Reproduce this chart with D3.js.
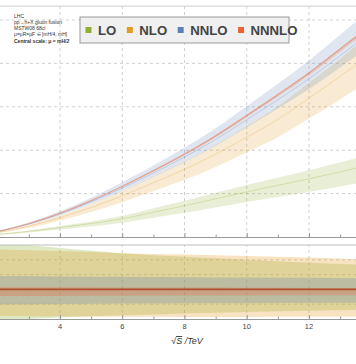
<!DOCTYPE html>
<html><head><meta charset="utf-8">
<script src="https://cdn.jsdelivr.net/npm/d3@7"></script>
<style>
body{margin:0;background:#fff}
svg{display:block;font-family:"Liberation Sans",Arial,sans-serif}
</style>
</head><body>
<svg id="chart" width="356" height="364"></svg>
<script>
// ---------- data ----------
const energies = [2,3,4,5,6,7,8,9,10,11,12,13,14];          // sqrt(S) in TeV
const orders = ["LO","NLO","NNLO","NNNLO"];
const orderColors = ["#8FB032","#E19C24","#5E81B5","#EB6235"];

// upper panel: cross section (pb) central values and scale bands
const loCentral   = [0.6,1.3,2.2,3.1,4.2,5.7,7.2,8.8,10.4,11.9,13.4,15.0,16.7];
const loHigh      = [0.7,1.52,2.56,3.6,4.87,6.6,8.33,10.17,12.0,13.7,15.4,17.2,19.1];
const loLow       = [0.47,1.01,1.71,2.41,3.26,4.42,5.58,6.82,8.05,9.2,10.4,11.65,12.95];
const nloCentral  = [1.05,2.5,4.45,6.8,9.5,12.5,15.6,19.1,23.0,27.1,32.0,37.0,42.2];
const nloHigh     = [1.17,2.78,4.94,7.55,10.55,13.88,17.32,21.2,25.53,30.08,35.52,41.07,46.84];
const nloLow      = [0.89,2.11,3.76,5.75,8.03,10.56,13.18,16.14,19.5,23.0,27.3,31.7,36.3];
const nnloCentral = [1.25,2.99,5.31,8.11,11.29,14.76,18.43,22.48,27.02,31.65,36.48,41.78,47.19];
const nnloHigh    = [1.39,3.33,5.92,9.04,12.59,16.46,20.55,25.07,30.13,35.29,40.68,46.58,52.62];
const nnloLow     = [1.17,2.80,4.96,7.58,10.56,13.8,17.23,21.02,25.26,29.59,34.11,39.06,44.12];
const n3loCentral = [1.3,3.1,5.5,8.4,11.7,15.3,19.1,23.3,28.0,32.8,37.8,43.3,48.9];
const n3loHigh    = [1.31,3.12,5.53,8.44,11.76,15.38,19.2,23.42,28.14,32.96,37.99,43.52,49.14];
const n3loLow     = [1.28,3.05,5.42,8.27,11.52,15.07,18.81,22.95,27.58,32.31,37.23,42.65,48.17];

// lower panel: ratio to own central value
const ratioEnergies = [2,4,6,8,10,12,14];
const loRatioHigh   = [1.32,1.28,1.245,1.22,1.20,1.18,1.165];
const loRatioLow    = [0.79,0.81,0.825,0.838,0.848,0.856,0.862];
const nloRatioHigh  = [1.27,1.26,1.245,1.235,1.225,1.215,1.20];
const nloRatioLow   = [0.82,0.817,0.815,0.814,0.814,0.815,0.816];
const nnloRatioHigh = [1.09,1.088,1.085,1.082,1.08,1.078,1.075];
const nnloRatioLow  = [0.90,0.902,0.904,0.906,0.907,0.908,0.91];
const n3loRatioHigh = [1.015,1.014,1.013,1.012,1.011,1.01,1.01];
const n3loRatioLow  = [0.955,0.956,0.957,0.958,0.959,0.96,0.96];
const ratioCentral  = [1,1,1,1,1,1,1];

const xTicks = [4,6,8,10,12];
const yGrid = [10,20,30,40,50];
const ratioGrid = [0.9,1.0,1.1,1.2];
const infoLines = ["LHC","pp\u2192h+X gluon fusion","MSTW08 68cl","\u03BC=\u03BCR=\u03BCF \u2208 [mH/4, mH]","Central scale: \u03BC = mH/2"];

// ---------- drawing ----------
const svg = d3.select("#chart");
const x = d3.scaleLinear().domain([2,14]).range([-2.25,371.25]);
const yTop = d3.scaleLinear().domain([0,53.2]).range([237,6.1]);
const yBot = d3.scaleLinear().domain([0.8,1.3]).range([319,245]);

const defs = svg.append("defs");
defs.append("clipPath").attr("id","clipTop").append("rect")
  .attr("x",0).attr("y",yTop.range()[1]).attr("width",356).attr("height",yTop.range()[0]-yTop.range()[1]);
defs.append("clipPath").attr("id","clipBot").append("rect")
  .attr("x",0).attr("y",yBot.range()[1]).attr("width",356).attr("height",yBot.range()[0]-yBot.range()[1]);

function gridLines(g, yScale, yvals){
  g.selectAll(".vg").data(xTicks).join("line")
    .attr("x1",d=>x(d)).attr("x2",d=>x(d))
    .attr("y1",yScale.range()[0]).attr("y2",yScale.range()[1])
    .attr("stroke","#c4c4c4").attr("stroke-width",0.8).attr("stroke-dasharray","3,3");
  g.selectAll(".hg").data(yvals).join("line")
    .attr("x1",0).attr("x2",356)
    .attr("y1",d=>yScale(d)).attr("y2",d=>yScale(d))
    .attr("stroke","#c4c4c4").attr("stroke-width",0.8).attr("stroke-dasharray","3,3");
}

// upper panel
const topG = svg.append("g");
gridLines(topG.append("g"), yTop, yGrid);
const topData = [
  {c:loCentral,h:loHigh,l:loLow},
  {c:nloCentral,h:nloHigh,l:nloLow},
  {c:nnloCentral,h:nnloHigh,l:nnloLow},
  {c:n3loCentral,h:n3loHigh,l:n3loLow}
];
const topPlot = topG.append("g").attr("clip-path","url(#clipTop)");
topData.forEach((s,i)=>{
  const pts = energies.map((e,j)=>({e, c:s.c[j], h:s.h[j], l:s.l[j]}));
  topPlot.append("path").datum(pts)
    .attr("d", d3.area().x(d=>x(d.e)).y0(d=>yTop(d.l)).y1(d=>yTop(d.h)).curve(d3.curveMonotoneX))
    .attr("fill",orderColors[i]).attr("fill-opacity",0.2).attr("stroke","none");
});
topData.forEach((s,i)=>{
  const pts = energies.map((e,j)=>({e, c:s.c[j]}));
  topPlot.append("path").datum(pts)
    .attr("d", d3.line().x(d=>x(d.e)).y(d=>yTop(d.c)).curve(d3.curveMonotoneX))
    .attr("fill","none").attr("stroke",orderColors[i])
    .attr("stroke-opacity", i===3 ? 0.4 : 0.35).attr("stroke-width", i===3 ? 1.3 : 0.8);
});

// upper frame
topG.append("line").attr("x1",0).attr("x2",356).attr("y1",yTop.range()[1]).attr("y2",yTop.range()[1])
  .attr("stroke","#cfcfcf").attr("stroke-width",1);
topG.append("g").attr("transform",`translate(0,${yTop.range()[0]})`)
  .call(d3.axisBottom(x).tickValues(d3.range(3,14,1)).tickSize(-4).tickFormat(""))
  .call(g=>{g.select(".domain").attr("stroke","#9a9a9a");
           g.selectAll(".tick line").attr("stroke","#9a9a9a")
            .attr("y2",d=>xTicks.includes(d)?-4:-2.5);});

// lower panel
const botG = svg.append("g");
gridLines(botG.append("g"), yBot, ratioGrid);
const botPlot = botG.append("g").attr("clip-path","url(#clipBot)");
const botData = [
  {h:loRatioHigh,l:loRatioLow},
  {h:nloRatioHigh,l:nloRatioLow},
  {h:nnloRatioHigh,l:nnloRatioLow},
  {h:n3loRatioHigh,l:n3loRatioLow}
];
botData.forEach((s,i)=>{
  const pts = ratioEnergies.map((e,j)=>({e,h:s.h[j],l:s.l[j]}));
  botPlot.append("path").datum(pts)
    .attr("d", d3.area().x(d=>x(d.e)).y0(d=>yBot(d.l)).y1(d=>yBot(d.h)).curve(d3.curveMonotoneX))
    .attr("fill",orderColors[i]).attr("fill-opacity",0.28).attr("stroke","none");
});
botPlot.append("path").datum(ratioEnergies.map((e,j)=>({e,v:ratioCentral[j]})))
  .attr("d", d3.line().x(d=>x(d.e)).y(d=>yBot(d.v)))
  .attr("fill","none").attr("stroke","#B0502E").attr("stroke-width",1.8);

botG.append("line").attr("x1",0).attr("x2",356).attr("y1",yBot.range()[1]).attr("y2",yBot.range()[1])
  .attr("stroke","#bdbdbd").attr("stroke-width",1);
botG.append("g").attr("transform",`translate(0,${yBot.range()[0]})`)
  .call(d3.axisBottom(x).tickValues(d3.range(3,14,1)).tickSize(-4).tickFormat(""))
  .call(g=>{g.select(".domain").attr("stroke","#9a9a9a");
           g.selectAll(".tick line").attr("stroke","#9a9a9a")
            .attr("y2",d=>xTicks.includes(d)?-4:-2.5);});
botG.append("g").selectAll("text").data(xTicks).join("text")
  .attr("x",d=>x(d)).attr("y",yBot.range()[0]+9.5)
  .attr("text-anchor","middle").attr("font-size",7.5).attr("fill","#444")
  .text(d=>d);

// axis label
const lab = svg.append("text").attr("x",187).attr("y",344).attr("text-anchor","middle")
  .attr("font-size",9).attr("fill","#333").attr("font-style","italic");
lab.append("tspan").attr("font-style","normal").text("\u221A");
lab.append("tspan").attr("text-decoration","overline").text("S");
lab.append("tspan").text(" /TeV");

// info text
svg.append("g").selectAll("text").data(infoLines).join("text")
  .attr("x",14).attr("y",(d,i)=>[17.5,24,29.5,35.5,43][i])
  .attr("font-size",5).attr("fill","#333")
  .attr("font-weight",(d,i)=>i===4?"bold":"normal")
  .text(d=>d);

// legend
const leg = svg.append("g");
leg.append("rect").attr("x",80).attr("y",17).attr("width",209).attr("height",26)
  .attr("fill","#f0f0f0").attr("stroke","#9a9a9a").attr("stroke-width",1);
let cx = 85.5;
orders.forEach((o,i)=>{
  leg.append("rect").attr("x",cx).attr("y",27).attr("width",6).attr("height",6).attr("fill",orderColors[i]);
  const t = leg.append("text").attr("x",cx+12.5).attr("y",35).attr("font-size",13.2)
    .attr("font-weight","bold").attr("fill","#444").text(o);
  cx += 12.5 + t.node().getComputedTextLength() + 10.5;
});
</script>
</body></html>
